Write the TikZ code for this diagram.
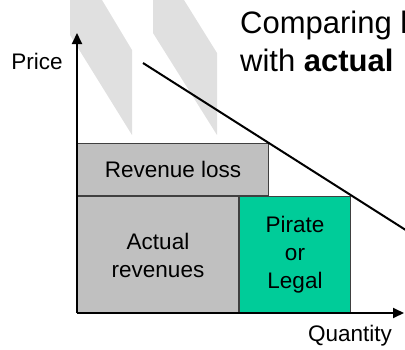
\documentclass[tikz,border=0pt]{standalone}
\usepackage{fontspec}
\setmainfont{Liberation Sans}
\usetikzlibrary{arrows.meta}

\definecolor{boxgray}{HTML}{C0C0C0}
\definecolor{pirategreen}{HTML}{00CC99}
\definecolor{shadegray}{HTML}{E0E0E0}

\tikzset{
  area/.style={draw=black!75, line width=1pt, align=center, inner sep=0pt,
    font=\fontsize{22.5}{28}\selectfont},
  axis/.style={line width=2pt, -{Triangle[length=11pt,width=10pt]}},
  label/.style={font=\fontsize{22.5}{28}\selectfont, inner sep=0pt},
  headline/.style={font=\fontsize{31}{37}\selectfont, inner sep=0pt, anchor=base west},
}

\begin{document}
\begin{tikzpicture}[x=1pt, y=-1pt]
      \useasboundingbox (0,0) rectangle (405,349);
      \clip (0,0) rectangle (405,349);

      % Background stripes
      \fill[shadegray] (70,0) -- (102,0) -- (132,50) -- (132,135) -- (70,35) -- cycle;
      \fill[shadegray] (153,0) -- (184,0) -- (217,53) -- (217,135) -- (153,33) -- cycle;

      % Heading, cut at the right edge
      \node[headline] (head1) at (240,33) {Comparing l};
      \node[headline] (head2) at (240,71) {with \textbf{actual}};

      % Revenue areas
      \node[area, fill=boxgray, minimum width=191pt, minimum height=52pt, anchor=south west]
        (loss) at (77,196) {Revenue loss};
      \node[area, fill=boxgray, minimum width=161pt, minimum height=117pt, anchor=north west]
        (actual) at (77,196) {Actual\\revenues};
      \node[area, fill=pirategreen, minimum width=111pt, minimum height=117pt, anchor=south west]
        (pirate) at (actual.south east) {Pirate\\or\\Legal};

      % Demand curve
      \coordinate (dtop) at (143,63);
      \coordinate (dend) at (412,234);
      \draw[line width=2pt] (dtop) -- (dend);

      % Axes
      \coordinate (origin) at (77,313);
      \coordinate (ytop) at (77,33);
      \coordinate (xend) at (404,313);
      \draw[axis] (origin) -- (ytop);
      \draw[axis] (origin) -- (xend);

      \node[label, anchor=base] (price) at (37,69) {Price};
      \node[label, anchor=base] (qty) at (350,341) {Quantity};
    \end{tikzpicture}
\end{document}
